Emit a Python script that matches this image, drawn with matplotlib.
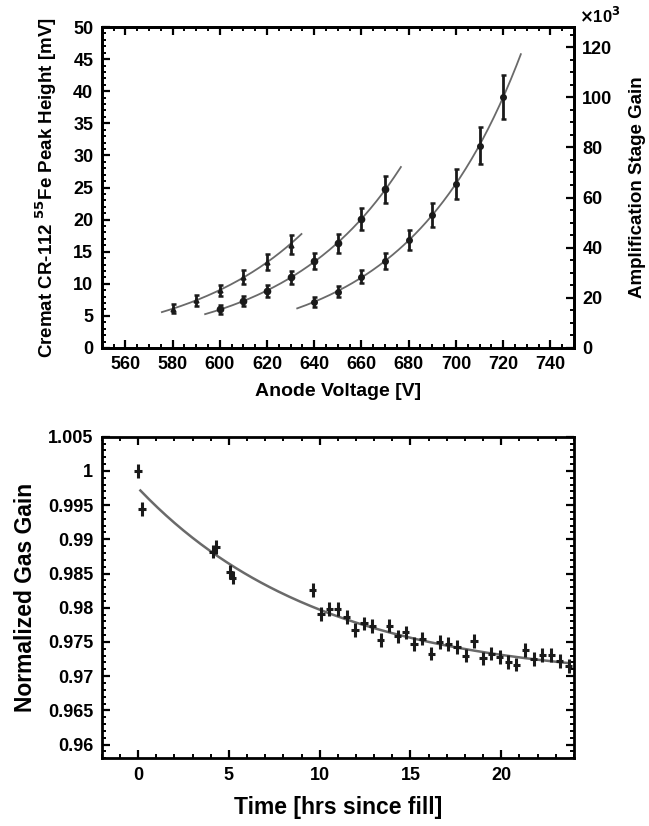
import numpy as np
import matplotlib
matplotlib.use("Agg")
import matplotlib.pyplot as plt
from matplotlib.ticker import MultipleLocator

plt.rcParams['font.family'] = ['Liberation Sans', 'DejaVu Sans']
plt.rcParams['font.weight'] = 'bold'
plt.rcParams['mathtext.default'] = 'bf'

# ─────────────────────────────────────────────
# DATA
# ─────────────────────────────────────────────
# top panel: peak height [mV] vs anode voltage [V], three gas settings
v1 = [580, 590, 600, 610, 620, 630]
h1 = [6.1, 7.4, 9.0, 11.1, 13.4, 16.1]
e1 = [0.7, 0.8, 0.85, 1.1, 1.2, 1.5]
fit1_range = [575.5, 634.6]

v2 = [600, 610, 620, 630, 640, 650, 660, 670]
h2 = [6.0, 7.3, 8.9, 11.0, 13.5, 16.3, 20.1, 24.7]
e2 = [0.65, 0.75, 0.9, 1.05, 1.25, 1.5, 1.75, 2.1]
fit2_range = [593.8, 676.7]

v3 = [640, 650, 660, 670, 680, 690, 700, 710, 720]
h3 = [7.2, 8.8, 11.1, 13.5, 16.8, 20.7, 25.6, 31.5, 39.1]
e3 = [0.75, 0.9, 1.05, 1.25, 1.55, 1.9, 2.35, 2.85, 3.5]
fit3_range = [632.8, 727.5]

# bottom panel: normalized gas gain vs hours since fill
t_hrs = [0.0, 0.22, 4.12, 4.30, 5.04, 5.22, 9.62, 10.07, 10.53, 10.99,
         11.48, 11.94, 12.44, 12.89, 13.35, 13.83, 14.29, 14.74, 15.20, 15.66,
         16.15, 16.61, 17.09, 17.56, 18.04, 18.50, 18.99, 19.45, 19.91, 20.38,
         20.82, 21.32, 21.78, 22.25, 22.75, 23.21, 23.70]
gain = [1.0000, 0.9944, 0.9882, 0.9889, 0.9852, 0.9844, 0.9826, 0.9791, 0.9798, 0.9798,
        0.9786, 0.9767, 0.9777, 0.9773, 0.9753, 0.9774, 0.9758, 0.9764, 0.9747, 0.9755,
        0.9733, 0.9750, 0.9747, 0.9743, 0.9730, 0.9751, 0.9726, 0.9733, 0.9728, 0.9721,
        0.9717, 0.9738, 0.9725, 0.9731, 0.9731, 0.9722, 0.9715]
t_err = 0.2
gain_err = 0.001
decay_range = [0.13, 23.75]


# ─────────────────────────────────────────────
# HELPERS
# ─────────────────────────────────────────────
def exp_fit(x, y, xr):
    """Exponential fit through the points, evaluated over xr."""
    k, c = np.polyfit(x, np.log(y), 1)
    xs = np.linspace(xr[0], xr[1], 200)
    return xs, np.exp(c + k * xs)


def decay_fit(t, g, tr):
    """Fit g = a + b*exp(-t/tau) by scanning tau and least squares for a, b."""
    t = np.asarray(t)
    g = np.asarray(g)
    best = None
    for tau in np.linspace(2, 40, 381):
        A = np.column_stack([np.ones_like(t), np.exp(-t / tau)])
        coef, res, _, _ = np.linalg.lstsq(A, g, rcond=None)
        r = np.sum((A @ coef - g) ** 2)
        if best is None or r < best[0]:
            best = (r, tau, coef)
    _, tau, (a, b) = best
    ts = np.linspace(tr[0], tr[1], 200)
    return ts, a + b * np.exp(-ts / tau)


def style_axis(ax, sides):
    for s in ax.spines.values():
        s.set_linewidth(2.0)
    ax.tick_params(which='both', direction='in', labelsize=13, **sides)
    ax.tick_params(which='major', length=6, width=1.6, pad=6)
    ax.tick_params(which='minor', length=3, width=1.4)


FIT_COLOR = '#6a6a6a'
INK = '#1a1a1a'

fig = plt.figure(figsize=(6.49, 8.26), dpi=100)

# ─────────────────────────────────────────────
# TOP PANEL
# ─────────────────────────────────────────────
ax1 = fig.add_axes([0.1567, 0.5787, 0.7277, 0.3886])
for v, h, e, xr, m, ms in [(v1, h1, e1, fit1_range, '^', 3.5),
                           (v2, h2, e2, fit2_range, 'o', 4.5),
                           (v3, h3, e3, fit3_range, 'o', 4)]:
    xs, ys = exp_fit(v, h, xr)
    ax1.plot(xs, ys, color=FIT_COLOR, lw=1.3, zorder=2)
    ax1.errorbar(v, h, yerr=e, fmt=m, color=INK, ms=ms, elinewidth=2.0,
                 capsize=1.8, capthick=1.8, zorder=3)

ax1.set_xlim(550, 750)
ax1.set_ylim(0, 50)
ax1.xaxis.set_major_locator(MultipleLocator(20))
ax1.xaxis.set_minor_locator(MultipleLocator(5))
ax1.yaxis.set_major_locator(MultipleLocator(5))
ax1.yaxis.set_minor_locator(MultipleLocator(1))
style_axis(ax1, dict(top=True, right=False))
ax1.set_xlabel('Anode Voltage [V]', fontsize=14, fontweight='bold', labelpad=7)
ax1.set_ylabel('Cremat CR-112 $^{55}$Fe Peak Height [mV]', fontsize=13.5,
               fontweight='bold', labelpad=10)

ax1r = ax1.twinx()
ax1r.set_ylim(0, 128)
ax1r.yaxis.set_major_locator(MultipleLocator(20))
ax1r.yaxis.set_minor_locator(MultipleLocator(5))
style_axis(ax1r, dict(left=False, right=True))
ax1r.set_ylabel('Amplification Stage Gain', fontsize=13.5, fontweight='bold',
                labelpad=12)
ax1r.text(1.01, 1.035, r'$\times$10$^{3}$', transform=ax1r.transAxes,
          fontsize=12, fontweight='bold', ha='left', va='center')

# ─────────────────────────────────────────────
# BOTTOM PANEL
# ─────────────────────────────────────────────
ax2 = fig.add_axes([0.1567, 0.0820, 0.7277, 0.3893])
ts, gs = decay_fit(t_hrs, gain, decay_range)
ax2.plot(ts, gs, color=FIT_COLOR, lw=1.8, zorder=2)
ax2.errorbar(t_hrs, gain, xerr=t_err, yerr=gain_err, fmt='none',
             ecolor=INK, elinewidth=2.2, capsize=0, zorder=3)

ax2.set_xlim(-2, 24)
ax2.set_ylim(0.958, 1.005)
ax2.xaxis.set_major_locator(MultipleLocator(5))
ax2.xaxis.set_minor_locator(MultipleLocator(1))
ax2.yaxis.set_major_locator(MultipleLocator(0.005))
ax2.yaxis.set_minor_locator(MultipleLocator(0.001))
ax2.yaxis.set_major_formatter(plt.FuncFormatter(lambda y, _: f'{y:.3f}'.rstrip('0').rstrip('.')))
style_axis(ax2, dict(top=True, right=True))
ax2.set_xlabel('Time [hrs since fill]', fontsize=16.5, fontweight='bold', labelpad=9)
ax2.set_ylabel('Normalized Gas Gain', fontsize=16.5, fontweight='bold', labelpad=8)

plt.savefig('out.png', dpi=100)
